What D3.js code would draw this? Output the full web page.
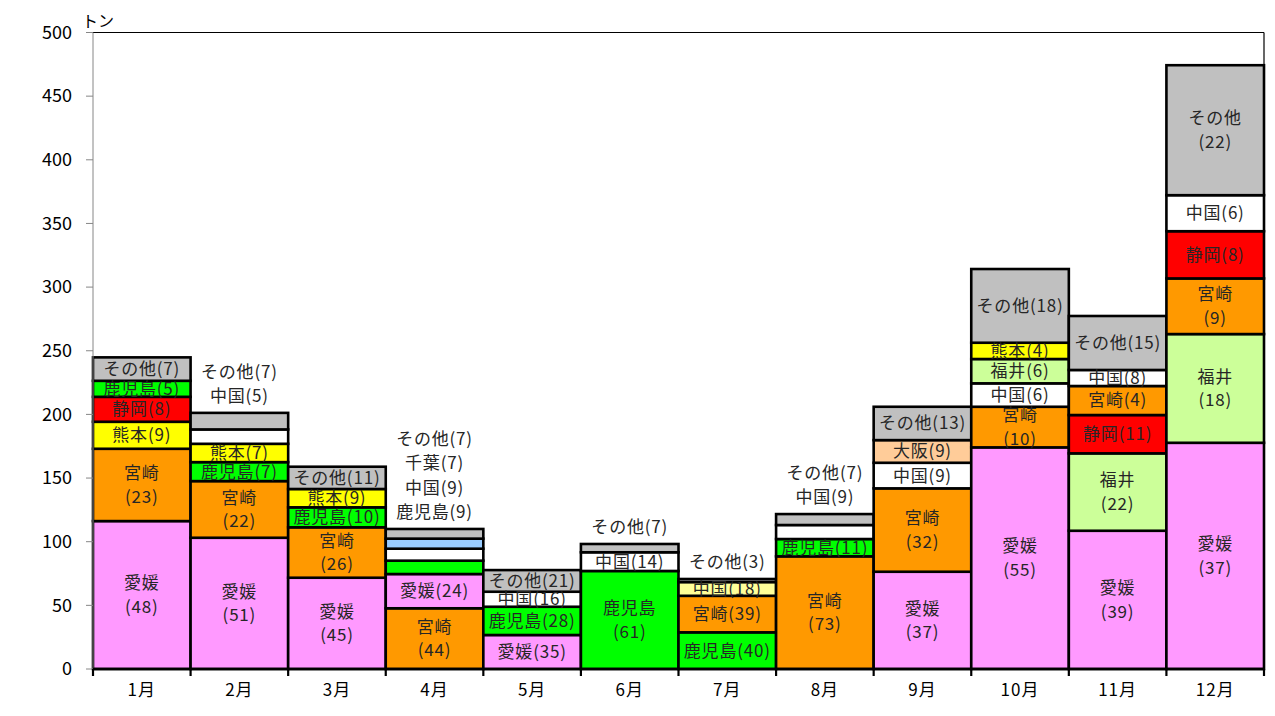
<!DOCTYPE html>
<html>
<head>
<meta charset="utf-8">
<script src="https://cdn.jsdelivr.net/npm/d3@7"></script>
<style>
  body { margin: 0; background: #fff; }
  svg { display: block; }
  text { font-family: "Noto Sans CJK JP", "Noto Sans", sans-serif; }
</style>
</head>
<body>
<svg id="chart" width="1275" height="716"></svg>
<script>
// ---------- data ----------
const months = ["1月","2月","3月","4月","5月","6月","7月","8月","9月","10月","11月","12月"];
const yTicks = [0,50,100,150,200,250,300,350,400,450,500];
const unitLabel = "トン";

// stacked segments per month, bottom to top
const segNames = [
  ["愛媛","宮崎","熊本","静岡","鹿児島","その他"],
  ["愛媛","宮崎","鹿児島","熊本","中国","その他"],
  ["愛媛","宮崎","鹿児島","熊本","その他"],
  ["宮崎","愛媛","鹿児島","中国","千葉","その他"],
  ["愛媛","鹿児島","中国","その他"],
  ["鹿児島","中国","その他"],
  ["鹿児島","宮崎","中国","その他"],
  ["宮崎","鹿児島","中国","その他"],
  ["愛媛","宮崎","中国","大阪","その他"],
  ["愛媛","宮崎","中国","福井","熊本","その他"],
  ["愛媛","福井","静岡","宮崎","中国","その他"],
  ["愛媛","福井","宮崎","静岡","中国","その他"]
];
const segValues = [
  [116.2, 56.8, 21.2, 19.6, 12.6, 18.4],
  [103.1, 44.5, 14.9, 14.4, 11.3, 13.0],
  [71.7, 39.6, 15.7, 14.4, 17.5],
  [47.7, 26.9, 10.5, 9.4, 7.9, 7.6],
  [26.7, 22.2, 11.8, 17.0],
  [77.0, 14.7, 6.5],
  [28.8, 28.7, 10.8, 2.4],
  [88.5, 13.6, 11.0, 8.6],
  [76.4, 65.5, 20.1, 17.8, 26.2],
  [174.1, 31.9, 18.4, 19.1, 12.8, 57.9],
  [108.6, 60.8, 30.1, 22.8, 12.6, 42.4],
  [177.7, 85.4, 43.7, 37.1, 28.3, 102.1]
];
const segPcts = [
  [48,23,9,8,5,7],
  [51,22,7,7,5,7],
  [45,26,10,9,11],
  [44,24,9,9,7,7],
  [35,28,16,21],
  [61,14,7],
  [40,39,18,3],
  [73,11,9,7],
  [37,32,9,9,13],
  [55,10,6,6,4,18],
  [39,22,11,4,8,15],
  [37,18,9,8,6,22]
];

// ---------- styles / layout ----------
const colorByName = {
  "愛媛":"#FF99FF","宮崎":"#FF9900","熊本":"#FFFF00","静岡":"#FF0000",
  "鹿児島":"#00FF00","その他":"#C0C0C0","中国":"#FFFFFF","千葉":"#99CCFF",
  "大阪":"#FFCC99","福井":"#CCFF99"
};
const colorOverride = {"7月|中国":"#FFFF99"};
// label mode: "2" two lines inside, "1" one line inside, "o" above the bar
const labelModes = [
  ["2","2","1","1","1","1"],
  ["2","2","1","1","o","o"],
  ["2","2","1","1","1"],
  ["2","1","o","o","o","o"],
  ["1","1","1","1"],
  ["2","1","o"],
  ["1","1","1","o"],
  ["2","1","o","o"],
  ["2","2","1","1","1"],
  ["2","2","1","1","1","1"],
  ["2","2","1","1","1","1"],
  ["2","2","2","1","1","2"]
];

(function () {
const svg = d3.select("#chart");
const pLeft = 93, pRight = 1264, pTop = 32.5, pBottom = 669;
const x = d3.scaleBand().domain(months).range([pLeft, pRight]).padding(0);
const y = d3.scaleLinear().domain([0, 500]).range([pBottom, pTop]);

// plot frame (top and right)
svg.append("line").attr("x1", pLeft).attr("x2", pRight).attr("y1", pTop).attr("y2", pTop)
  .attr("stroke", "#000").attr("stroke-width", 1.2);
svg.append("line").attr("x1", pRight).attr("x2", pRight).attr("y1", pTop).attr("y2", pBottom)
  .attr("stroke", "#000").attr("stroke-width", 1.2);

// build segments
const segs = [];
months.forEach((m, i) => {
  let acc = 0;
  segNames[i].forEach((n, j) => {
    const v = segValues[i][j];
    segs.push({month: m, name: n, y0: acc, y1: acc + v, pct: segPcts[i][j], mode: labelModes[i][j], idx: j});
    acc += v;
  });
});

const g = svg.append("g");
g.selectAll("rect").data(segs).enter().append("rect")
  .attr("x", d => x(d.month))
  .attr("width", x.bandwidth())
  .attr("y", d => y(d.y1))
  .attr("height", d => y(d.y0) - y(d.y1))
  .attr("fill", d => colorOverride[d.month + "|" + d.name] || colorByName[d.name])
  .attr("stroke", "#000")
  .attr("stroke-width", 2.6);

// labels
const fs = 17, lh = 23.5;
const lbl = svg.append("g").attr("font-size", fs).attr("fill", "#262626")
  .attr("text-anchor", "middle").attr("letter-spacing", "0.8px");
segs.filter(d => d.mode !== "o").forEach(d => {
  const cx = x(d.month) + x.bandwidth() / 2;
  const cy = (y(d.y0) + y(d.y1)) / 2;
  if (d.mode === "2") {
    lbl.append("text").attr("x", cx).attr("y", cy - lh / 2).attr("dy", "0.35em").text(d.name);
    lbl.append("text").attr("x", cx).attr("y", cy + lh / 2).attr("dy", "0.35em").text("(" + d.pct + ")");
  } else {
    lbl.append("text").attr("x", cx).attr("y", cy).attr("dy", "0.35em").text(d.name + "(" + d.pct + ")");
  }
});
// labels above bars
months.forEach((m, i) => {
  const outs = segs.filter(d => d.month === m && d.mode === "o");
  if (!outs.length) return;
  const total = d3.sum(segValues[i]);
  const cx = x(m) + x.bandwidth() / 2;
  const base = y(total) - 17;
  outs.forEach((d, k) => {
    lbl.append("text").attr("x", cx).attr("y", base - k * 24.3).attr("dy", "0.35em")
      .text(d.name + "(" + d.pct + ")");
  });
});

// left axis
const ya = svg.append("g");
ya.append("line").attr("x1", pLeft).attr("x2", pLeft).attr("y1", pTop).attr("y2", pBottom)
  .attr("stroke", "#868686").attr("stroke-width", 1);
yTicks.forEach(t => {
  ya.append("line").attr("x1", pLeft - 7).attr("x2", pLeft).attr("y1", y(t)).attr("y2", y(t))
    .attr("stroke", "#868686").attr("stroke-width", 1);
  ya.append("text").attr("x", 72).attr("y", y(t)).attr("dy", "0.35em")
    .attr("text-anchor", "end").attr("font-size", 18).attr("fill", "#000").text(t);
});

// bottom axis
const xa = svg.append("g");
xa.append("line").attr("x1", pLeft).attr("x2", pRight).attr("y1", pBottom).attr("y2", pBottom)
  .attr("stroke", "#000").attr("stroke-width", 2.6);
months.forEach(m => {
  const bx = x(m);
  xa.append("line").attr("x1", bx).attr("x2", bx).attr("y1", pBottom).attr("y2", pBottom + 7)
    .attr("stroke", "#000").attr("stroke-width", 2.2);
  xa.append("text").attr("x", bx + x.bandwidth() / 2).attr("y", 690).attr("dy", "0.35em")
    .attr("text-anchor", "middle").attr("font-size", 17).attr("letter-spacing", "1px")
    .attr("fill", "#000").text(m);
});
xa.append("line").attr("x1", pRight).attr("x2", pRight).attr("y1", pBottom).attr("y2", pBottom + 7)
  .attr("stroke", "#000").attr("stroke-width", 2.2);

// unit label
svg.append("text").attr("x", 82).attr("y", 27).attr("font-size", 16).attr("fill", "#000").text(unitLabel);
})();
</script>
</body>
</html>
